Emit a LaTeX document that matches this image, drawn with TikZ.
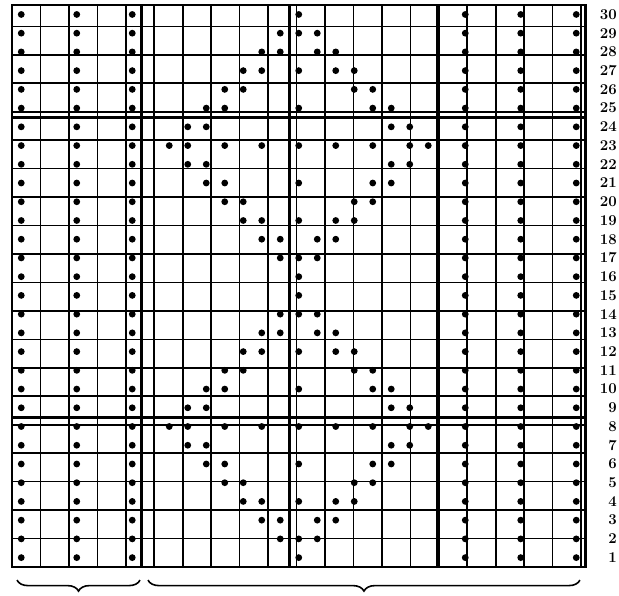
\documentclass[tikz,border=0pt]{standalone}
\usepackage{tikz}
\usetikzlibrary{decorations.pathreplacing}

\begin{document}
\begin{tikzpicture}[
  x=18.5pt, y=18.73pt,
  thinline/.style={line width=1.6pt},
  thickline/.style={line width=3pt},
  stitch/.style={fill=black},
  rowno/.style={anchor=east, inner sep=0pt, font=\fontsize{15}{15}\selectfont\bfseries},
  brace/.style={decorate, decoration={brace, mirror, amplitude=11pt}, line width=1.6pt}
]
\useasboundingbox (-12pt,-29pt) rectangle (607pt,567pt);

% Grid
\draw[thinline] (0,0) grid (31,30);
\foreach \x in {7,15}
  \draw[thickline] (\x,0) -- (\x,30);
\draw[line width=2.2pt] (23,0) -- (23,30);
\foreach \y in {8,24}
  \draw[thickline] (0,\y) -- (31,\y);
\draw[line width=2.2pt] (0,0) rectangle (31,30);

% Side ribs
\foreach \r in {1,...,30}
  \foreach \c in {1,4,7,25,28,31}
    \fill[stitch] (\c-0.5,\r-0.5) circle (3.4pt);

% Diamond motif (repeats every 15 rows)
\foreach \off in {0,15}
  \foreach \k/\cols in {1/{16}, 2/{15,16,17}, 3/{14,15,17,18},
      4/{13,14,16,18,19}, 5/{12,13,19,20}, 6/{11,12,16,20,21},
      7/{10,11,21,22}, 8/{9,10,12,14,16,18,20,22,23}, 9/{10,11,21,22},
      10/{11,12,16,20,21}, 11/{12,13,19,20}, 12/{13,14,16,18,19},
      13/{14,15,17,18}, 14/{15,16,17}, 15/{16}}
    \foreach \c in \cols
      \fill[stitch] (\c-0.5,\k+\off-0.5) circle (3.4pt);

% Row numbers
\foreach \r in {1,...,30}
  \node[rowno] (row\r) at (32.7,\r-0.5) {\r};

% Braces
\coordinate (ribs-start) at (0.27,-0.7);
\coordinate (ribs-end) at (6.92,-0.7);
\coordinate (panel-start) at (7.35,-0.7);
\coordinate (panel-end) at (30.7,-0.7);
\draw[brace] (ribs-start) -- (ribs-end);
\draw[brace] (panel-start) -- (panel-end);

\end{tikzpicture}
\end{document}
